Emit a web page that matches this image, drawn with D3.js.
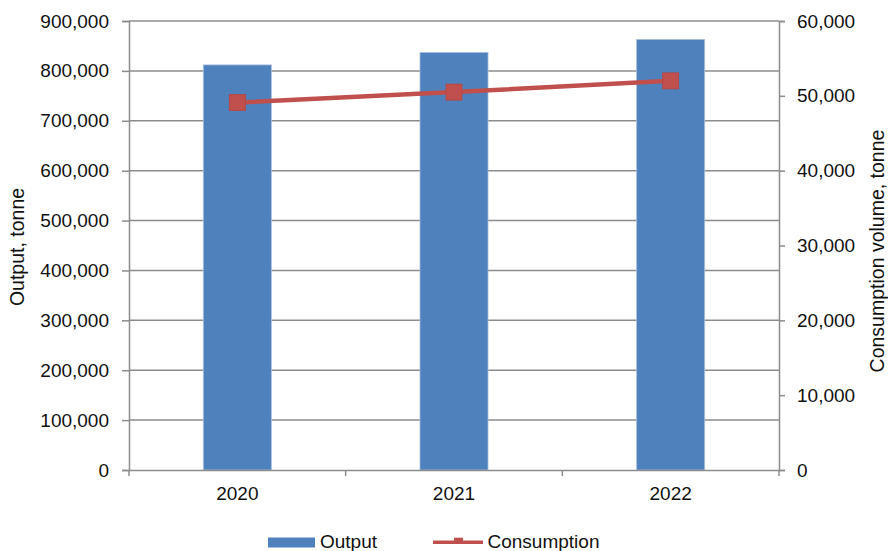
<!DOCTYPE html>
<html>
<head>
<meta charset="utf-8">
<script src="https://cdn.jsdelivr.net/npm/d3@7"></script>
<style>
  html, body { margin: 0; padding: 0; background: #fff; }
  svg { display: block; font-family: "Liberation Sans", Arial, sans-serif; }
</style>
</head>
<body>
<svg id="chart" width="888" height="551"></svg>
<script>
// Annual output (bars, left axis) and consumption (line, right axis), tonnes
const years = ["2020", "2021", "2022"];
const output = [812000, 837000, 863000];
const consumption = [49100, 50500, 52000];
const outputTicks = [0, 100000, 200000, 300000, 400000, 500000, 600000, 700000, 800000, 900000];
const consumptionTicks = [0, 10000, 20000, 30000, 40000, 50000, 60000];

const W = 888, H = 551;
const margin = { left: 129, right: 109, top: 21, bottom: 81 };
const x0 = margin.left, x1 = W - margin.right;
const y0 = H - margin.bottom, y1 = margin.top;

const blue = "#4F81BD", red = "#C0504D", grid = "#8C8C8C", textCol = "#111";
const fontSize = 19;

const svg = d3.select("#chart");

const x = d3.scaleBand().domain(years).range([x0, x1]).paddingInner(0).paddingOuter(0);
const yL = d3.scaleLinear().domain([0, 900000]).range([y0, y1]);
const yR = d3.scaleLinear().domain([0, 60000]).range([y0, y1]);
const fmt = d3.format(",");

// Horizontal gridlines from the left axis
svg.append("g")
  .selectAll("line")
  .data(outputTicks.filter(d => d > 0))
  .join("line")
  .attr("x1", x0).attr("x2", x1)
  .attr("y1", d => yL(d)).attr("y2", d => yL(d))
  .attr("stroke", grid).attr("stroke-width", 1.5);

// Bars
const barW = x.bandwidth() * 0.314;
svg.append("g")
  .selectAll("rect")
  .data(years)
  .join("rect")
  .attr("x", (d) => x(d) + x.bandwidth() / 2 - barW / 2)
  .attr("width", barW)
  .attr("y", (d, i) => yL(output[i]))
  .attr("height", (d, i) => yL(0) - yL(output[i]))
  .attr("fill", blue)
  .attr("stroke", "#A7C0DE")
  .attr("stroke-width", 0.8);

// Left axis
const axL = svg.append("g")
  .attr("transform", `translate(${x0},0)`)
  .call(d3.axisLeft(yL).tickValues(outputTicks).tickFormat(fmt).tickSize(7).tickPadding(13));
// Right axis
const axR = svg.append("g")
  .attr("transform", `translate(${x1},0)`)
  .call(d3.axisRight(yR).tickValues(consumptionTicks).tickFormat(fmt).tickSize(6).tickPadding(12));
// Bottom axis with ticks at category boundaries
const axB = svg.append("g")
  .attr("transform", `translate(0,${y0})`)
  .call(d3.axisBottom(x).tickSize(0).tickPadding(16.5));
axB.selectAll(".boundary")
  .data([x0, ...years.map(d => x(d) + x.bandwidth())])
  .join("line")
  .attr("class", "boundary")
  .attr("x1", d => d).attr("x2", d => d)
  .attr("y1", 0).attr("y2", 6)
  .attr("stroke", grid).attr("stroke-width", 1.5);

[axL, axR, axB].forEach(g => {
  g.select(".domain").attr("stroke", grid).attr("stroke-width", 1.5);
  g.selectAll(".tick line").attr("stroke", grid).attr("stroke-width", 1.5);
  g.selectAll(".tick text")
    .attr("fill", textCol)
    .style("font-size", fontSize + "px")
    .style("font-family", '"Liberation Sans", Arial, sans-serif');
});

// Consumption line with square markers
const line = d3.line()
  .x((d, i) => x(years[i]) + x.bandwidth() / 2)
  .y(d => yR(d));
svg.append("path")
  .datum(consumption)
  .attr("d", line)
  .attr("fill", "none")
  .attr("stroke", red)
  .attr("stroke-width", 4.5);
const mk = 16;
svg.append("g")
  .selectAll("rect")
  .data(consumption)
  .join("rect")
  .attr("x", (d, i) => x(years[i]) + x.bandwidth() / 2 - mk / 2)
  .attr("y", d => yR(d) - mk / 2)
  .attr("width", mk).attr("height", mk)
  .attr("fill", red)
  .attr("stroke", "#B8443F").attr("stroke-width", 0.8);

// Axis titles
svg.append("text")
  .attr("transform", `translate(24,247) rotate(-90)`)
  .attr("text-anchor", "middle")
  .attr("fill", textCol)
  .style("font-size", "19.5px")
  .text("Output, tonne");
svg.append("text")
  .attr("transform", `translate(884,251) rotate(-90)`)
  .attr("text-anchor", "middle")
  .attr("fill", textCol)
  .style("font-size", "19.5px")
  .text("Consumption volume, tonne");

// Legend
const lg = svg.append("g");
lg.append("rect").attr("x", 268).attr("y", 537.5).attr("width", 47).attr("height", 10).attr("fill", blue);
lg.append("text").attr("x", 320).attr("y", 548).attr("fill", textCol)
  .style("font-size", fontSize + "px").text("Output");
lg.append("line").attr("x1", 433).attr("x2", 483).attr("y1", 542.3).attr("y2", 542.3)
  .attr("stroke", red).attr("stroke-width", 3.5);
lg.append("rect").attr("x", 454).attr("y", 537.7).attr("width", 9).attr("height", 6).attr("fill", red);
lg.append("text").attr("x", 487.5).attr("y", 548).attr("fill", textCol)
  .style("font-size", fontSize + "px").text("Consumption");
</script>
</body>
</html>
